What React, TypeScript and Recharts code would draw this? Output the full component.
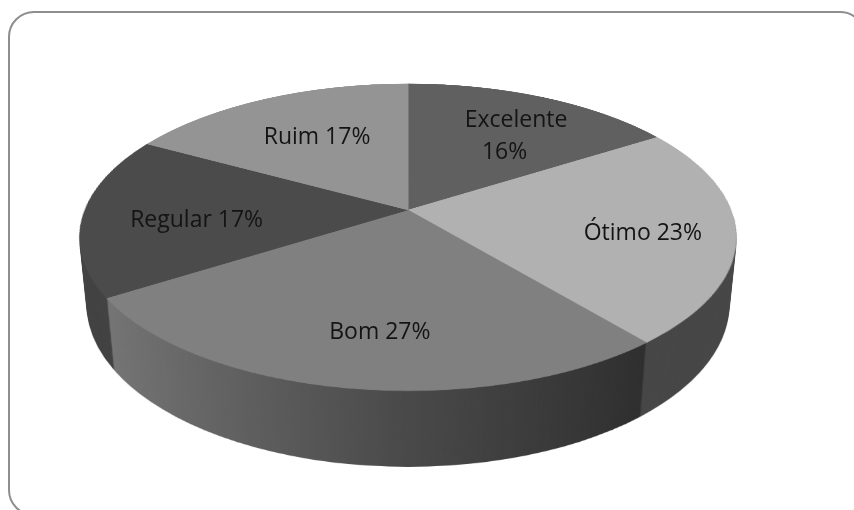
import { PieChart, Pie, Cell } from "recharts";

// avaliação (% de respostas)
const categories = ["Excelente", "Ótimo", "Bom", "Regular", "Ruim"];
const shares = [16, 23, 27, 17, 17];

const topColors = ["#606060", "#b1b1b1", "#808080", "#4b4b4b", "#949494"];
const sideColors = ["#3c3c3c", "#464646", "url(#bomSide)", "#424242", "#5a5a5a"];

const data = categories.map((name, i) => ({ name, value: shares[i] }));

// fake 3D: a flat pie tilted with a css perspective, extruded by stacking copies
const SIZE = 660;
const R = 323;
const CX = 408;
const CY = 210;
const TILT = 62.6;
const PERSP = 1620;
const DEPTH = 77;
const LABEL_R = 222;

const boxStyle = {
  position: "absolute" as const,
  left: CX - SIZE / 2,
  top: CY - SIZE / 2,
  width: SIZE,
  height: SIZE,
};

function project(cx: number, cy: number, angle: number, r: number) {
  const a = (angle * Math.PI) / 180;
  const t = (TILT * Math.PI) / 180;
  const x = r * Math.cos(a);
  const y = -r * Math.sin(a);
  const s = PERSP / (PERSP - y * Math.sin(t));
  return { x: cx + x * s, y: cy + y * Math.cos(t) * s };
}

function Layer({ depth, colors, seams }: { depth: number; colors: string[]; seams?: boolean }) {
  return (
    <div
      style={{
        ...boxStyle,
        transform: `perspective(${PERSP}px) rotateX(${TILT}deg) translateZ(${-depth}px)`,
      }}
    >
      <PieChart width={SIZE} height={SIZE} margin={{ top: 0, right: 0, bottom: 0, left: 0 }}>
        <Pie
          data={data}
          dataKey="value"
          cx={SIZE / 2}
          cy={SIZE / 2}
          outerRadius={R}
          startAngle={90}
          endAngle={-270}
          stroke="none"
          isAnimationActive={false}
        >
          {data.map((d, i) => (
            <Cell
              key={d.name}
              fill={colors[i]}
              stroke={seams ? colors[i] : "none"}
              strokeWidth={seams ? 1 : 0}
            />
          ))}
        </Pie>
      </PieChart>
    </div>
  );
}

function renderLabel(props: any) {
  const { cx, cy, midAngle, name, percent } = props;
  const p = project(cx, cy, midAngle, LABEL_R);
  const y = p.y + 6;
  const pct = `${Math.round(percent * 100)}%`;
  // excel keeps room for a (practically invisible) legend key before the text
  const key = (
    <tspan fontFamily="DejaVu Sans" fontSize={18} fillOpacity={0}>
      {"■ "}
    </tspan>
  );
  if (name.length > 8) {
    return (
      <text x={p.x} y={y} textAnchor="middle" fill="#141414" fontSize={23} fontFamily="'Open Sans'">
        <tspan x={p.x} dy={-8}>
          {key}
          {name}
        </tspan>
        <tspan x={p.x} dy={32}>
          {pct}
        </tspan>
      </text>
    );
  }
  return (
    <text x={p.x} y={y + 8} textAnchor="middle" fill="#141414" fontSize={23} fontFamily="'Open Sans'">
      {key}
      {`${name} ${pct}`}
    </text>
  );
}

export default function App() {
  const layers = [];
  for (let d = DEPTH; d >= 1; d--) {
    layers.push(<Layer key={d} depth={d} colors={sideColors} />);
  }
  return (
    <div
      style={{
        position: "absolute",
        left: 0,
        top: 0,
        width: 854,
        height: 510,
        overflow: "hidden",
        background: "#fff",
      }}
    >
      <svg width={0} height={0} style={{ position: "absolute" }}>
        <defs>
          <linearGradient id="bomSide" x1="0" y1="0" x2="1" y2="0">
            <stop offset="0%" stopColor="#747474" />
            <stop offset="55%" stopColor="#4a4a4a" />
            <stop offset="100%" stopColor="#2e2e2e" />
          </linearGradient>
        </defs>
      </svg>
      <div
        style={{
          position: "absolute",
          left: 8,
          top: 11,
          width: 858,
          height: 505,
          border: "2px solid #8e8e8e",
          borderRadius: 26,
          boxSizing: "border-box",
        }}
      />
      {layers}
      <Layer depth={0} colors={topColors} seams />
      <div style={boxStyle}>
        <PieChart width={SIZE} height={SIZE} margin={{ top: 0, right: 0, bottom: 0, left: 0 }}>
          <Pie
            data={data}
            dataKey="value"
            cx={SIZE / 2}
            cy={SIZE / 2}
            outerRadius={R}
            startAngle={90}
            endAngle={-270}
            fill="none"
            stroke="none"
            label={renderLabel}
            labelLine={false}
            isAnimationActive={false}
          />
        </PieChart>
      </div>
    </div>
  );
}
